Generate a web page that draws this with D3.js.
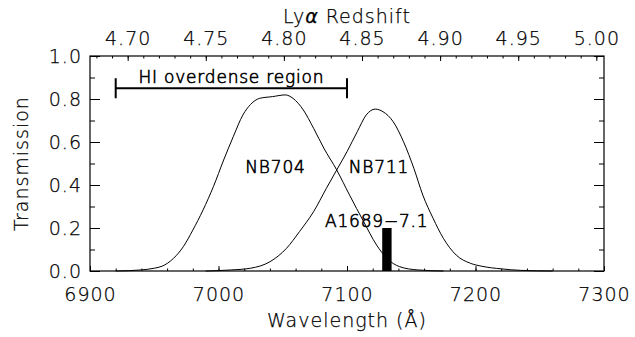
<!DOCTYPE html>
<html>
<head>
<meta charset="utf-8">
<script src="https://cdn.jsdelivr.net/npm/d3@7"></script>
<style>
  body { margin: 0; background: #fff; }
  svg text { font-family: "DejaVu Sans", "Liberation Sans", sans-serif; font-weight: 200; fill: #000; stroke: #000; stroke-width: 0.25; }
  svg text.note { stroke-width: 0.6; }
</style>
</head>
<body>
<div id="chart"></div>
<script>
// filter curves
const nb704Wave = [6920, 6940, 6950, 6956, 6965, 6972.6, 6980, 6988, 6996, 7004, 7011.5, 7019, 7025, 7032, 7042, 7052, 7058, 7066, 7074, 7082, 7092, 7102, 7113, 7123, 7131, 7141, 7155, 7175];
const nb704Trans = [0.0, 0.005, 0.013, 0.022, 0.059, 0.113, 0.19, 0.284, 0.392, 0.516, 0.625, 0.726, 0.775, 0.803, 0.811, 0.819, 0.803, 0.749, 0.664, 0.571, 0.47, 0.353, 0.229, 0.121, 0.059, 0.02, 0.005, 0.0];
const nb711Wave = [6990, 7010, 7025, 7040, 7053, 7063, 7074, 7084, 7092, 7100, 7108, 7115, 7122, 7128, 7136, 7144, 7152, 7159, 7167, 7175, 7185, 7196, 7205, 7220, 7235, 7260];
const nb711Trans = [0.0, 0.005, 0.013, 0.043, 0.106, 0.183, 0.276, 0.385, 0.47, 0.555, 0.648, 0.726, 0.753, 0.741, 0.694, 0.601, 0.478, 0.353, 0.245, 0.152, 0.074, 0.036, 0.022, 0.01, 0.003, 0.0];

// source line (A1689-7.1) and HI region
const sourceName = "A1689\u22127.1";
const sourceWave = [7127.4, 7134.7];
const sourceHeight = 0.2;
const regionName = "HI overdense region";
const regionWave = [6920, 7100];

// axes
const waveTicks = [6900, 7000, 7100, 7200, 7300];
const zTicks = [4.70, 4.75, 4.80, 4.85, 4.90, 4.95, 5.00];
const transTicks = [0.0, 0.2, 0.4, 0.6, 0.8, 1.0];
const LYA = 1215.67;

const width = 635, height = 337;
const mLeft = 90, mRight = 604, mTop = 56, mBottom = 271;

const svg = d3.select("#chart").append("svg")
  .attr("width", width).attr("height", height);

const x = d3.scaleLinear().domain([6900, 7300]).range([mLeft, mRight]);
const y = d3.scaleLinear().domain([0, 1]).range([mBottom, mTop]);
const z = d3.scaleLinear().domain([6900 / LYA - 1, 7300 / LYA - 1]).range([mLeft, mRight]);

function styleAxis(g) {
  g.select(".domain").remove();
  g.selectAll(".tick line").attr("stroke", "#000").attr("stroke-width", 1);
  g.selectAll("text").attr("font-size", 19).attr("letter-spacing", 1).attr("fill", "#000");
}

// minor ticks
const waveMinor = d3.range(6900, 7301, 20);
const zMinor = d3.range(468, 501, 1).map(d => d / 100);
const transMinor = d3.range(0, 11, 1).map(d => d / 10);

svg.append("g").attr("transform", `translate(0,${mBottom})`)
  .call(d3.axisBottom(x).tickValues(waveMinor).tickSize(-2.5).tickFormat(""))
  .call(styleAxis);
svg.append("g").attr("transform", `translate(0,${mBottom})`)
  .call(d3.axisBottom(x).tickValues(waveTicks).tickSize(-5).tickPadding(17).tickFormat(d3.format("d")))
  .call(styleAxis);

svg.append("g").attr("transform", `translate(0,${mTop})`)
  .call(d3.axisTop(z).tickValues(zMinor).tickSize(-2.5).tickFormat(""))
  .call(styleAxis);
svg.append("g").attr("transform", `translate(0,${mTop})`)
  .call(d3.axisTop(z).tickValues(zTicks).tickSize(-5).tickPadding(11).tickFormat(d3.format(".2f")))
  .call(styleAxis);

svg.append("g").attr("transform", `translate(${mLeft},0)`)
  .call(d3.axisLeft(y).tickValues(transMinor).tickSize(-5).tickFormat(""))
  .call(styleAxis);
svg.append("g").attr("transform", `translate(${mLeft},0)`)
  .call(d3.axisLeft(y).tickValues(transTicks).tickSize(-10).tickPadding(8).tickFormat(d3.format(".1f")))
  .call(styleAxis);

svg.append("g").attr("transform", `translate(${mRight},0)`)
  .call(d3.axisRight(y).tickValues(transMinor).tickSize(-5).tickFormat(""))
  .call(styleAxis);
svg.append("g").attr("transform", `translate(${mRight},0)`)
  .call(d3.axisRight(y).tickValues(transTicks).tickSize(-10).tickFormat(""))
  .call(styleAxis);

// frame
svg.append("rect")
  .attr("x", mLeft).attr("y", mTop)
  .attr("width", mRight - mLeft).attr("height", mBottom - mTop)
  .attr("fill", "none").attr("stroke", "#000").attr("stroke-width", 1.2);

// axis titles
svg.append("text").attr("x", (mLeft + mRight) / 2).attr("y", 22.5)
  .attr("text-anchor", "middle").attr("font-size", 19).attr("letter-spacing", 1)
  .html("Ly<tspan font-style='italic'>\u03b1</tspan> Redshift");
svg.append("text").attr("x", (mLeft + mRight) / 2).attr("y", 326.5)
  .attr("text-anchor", "middle").attr("font-size", 19).attr("letter-spacing", 1)
  .text("Wavelength (\u00c5)");
svg.append("text")
  .attr("transform", `translate(28,${(mTop + mBottom) / 2}) rotate(-90)`)
  .attr("text-anchor", "middle").attr("font-size", 19).attr("letter-spacing", 1)
  .text("Transmission");

// filter curves
const line = d3.line()
  .x(d => x(d[0])).y(d => y(d[1]))
  .curve(d3.curveMonotoneX);

svg.append("path")
  .datum(d3.zip(nb704Wave, nb704Trans))
  .attr("d", line)
  .attr("fill", "none").attr("stroke", "#000").attr("stroke-width", 1);
svg.append("path")
  .datum(d3.zip(nb711Wave, nb711Trans))
  .attr("d", line)
  .attr("fill", "none").attr("stroke", "#000").attr("stroke-width", 1);

// HI overdense region bracket
const by = 88.3;
svg.append("path")
  .attr("d", `M${x(regionWave[0])},${by - 10}V${by + 10}M${x(regionWave[0])},${by}H${x(regionWave[1])}M${x(regionWave[1])},${by - 10}V${by + 10}`)
  .attr("fill", "none").attr("stroke", "#000").attr("stroke-width", 2);
svg.append("text").attr("class", "note")
  .attr("x", (x(regionWave[0]) + x(regionWave[1])) / 2).attr("y", 82.7)
  .attr("text-anchor", "middle").attr("font-size", 17).attr("letter-spacing", 0.8)
  .text(regionName);

// source bar
svg.append("rect")
  .attr("x", x(sourceWave[0])).attr("y", y(sourceHeight))
  .attr("width", x(sourceWave[1]) - x(sourceWave[0]))
  .attr("height", y(0) - y(sourceHeight))
  .attr("fill", "#000");

// labels
svg.append("text").attr("class", "note").attr("x", 275.5).attr("y", 172.7)
  .attr("text-anchor", "middle").attr("font-size", 17).attr("letter-spacing", 0.8)
  .text("NB704");
svg.append("text").attr("class", "note").attr("x", 379).attr("y", 172.7)
  .attr("text-anchor", "middle").attr("font-size", 17).attr("letter-spacing", 0.8)
  .text("NB711");
svg.append("text").attr("class", "note").attr("x", 376.7).attr("y", 226.7)
  .attr("text-anchor", "middle").attr("font-size", 17).attr("letter-spacing", 0.8)
  .text(sourceName);
</script>
</body>
</html>
